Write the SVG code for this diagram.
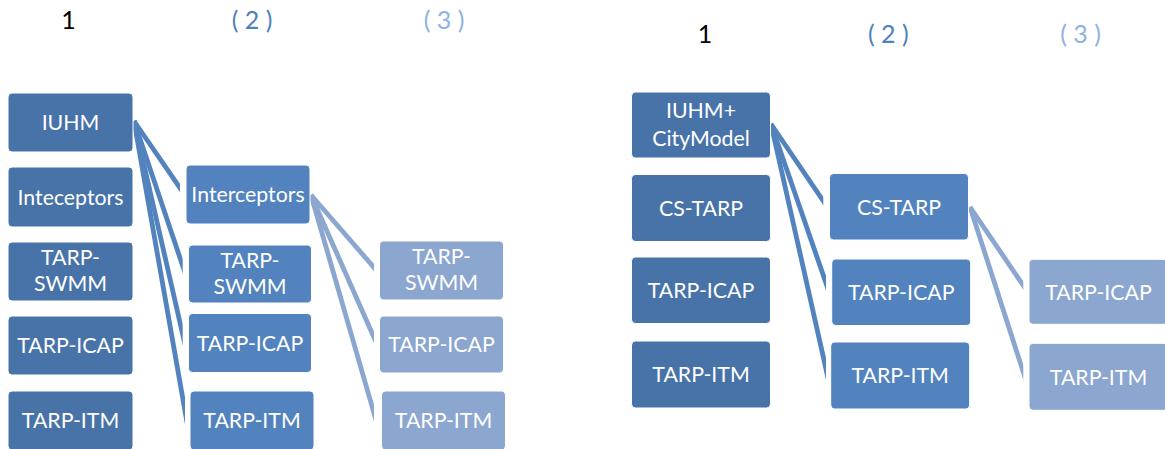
<svg xmlns="http://www.w3.org/2000/svg" width="1165" height="449" viewBox="0 0 1165 449">
<style>
.box rect{stroke:#ffffff;stroke-width:1}
.c1 rect{fill:#4873a9}
.c2 rect{fill:#5283bf}
.c3 rect{fill:#8ba6cf}
.box text{font-family:Lato,"Liberation Sans",sans-serif;font-size:21.3px;fill:#ffffff;text-anchor:middle}
.hd{font-family:Lato,"Liberation Sans",sans-serif;font-size:25px;text-anchor:middle}
.k1{stroke:#5283bf;stroke-width:4.8;fill:none}
.k2{stroke:#8ba6cf;stroke-width:4.8;fill:none}
</style>
<defs>
<clipPath id="cA" clipPathUnits="userSpaceOnUse"><rect x="0" y="0" width="180" height="449"/></clipPath>
<clipPath id="cB" clipPathUnits="userSpaceOnUse"><rect x="0" y="0" width="182.7" height="449"/></clipPath>
<clipPath id="cC" clipPathUnits="userSpaceOnUse"><rect x="0" y="0" width="185" height="449"/></clipPath>
<clipPath id="cD" clipPathUnits="userSpaceOnUse"><rect x="0" y="0" width="374" height="449"/></clipPath>
<clipPath id="cE" clipPathUnits="userSpaceOnUse"><rect x="0" y="0" width="823.3" height="449"/></clipPath>
<clipPath id="cF" clipPathUnits="userSpaceOnUse"><rect x="0" y="0" width="826" height="449"/></clipPath>
<clipPath id="cG" clipPathUnits="userSpaceOnUse"><rect x="0" y="0" width="1023.3" height="449"/></clipPath>
</defs>

<g id="headers">
<text class="hd" x="68.5" y="29.3" fill="#000000">1</text>
<text class="hd" x="252" y="29.3" fill="#4f81bd">( 2 )</text>
<text class="hd" x="444" y="29.3" fill="#8db3e2">( 3 )</text>
<text class="hd" x="705" y="43.3" fill="#000000">1</text>
<text class="hd" x="888.3" y="43.3" fill="#4f81bd">( 2 )</text>
<text class="hd" x="1080.5" y="43.3" fill="#8db3e2">( 3 )</text>
</g>

<g id="connectors">
<line class="k1" x1="134" y1="121" x2="186" y2="196.7" clip-path="url(#cA)"/>
<line class="k1" x1="134" y1="121" x2="187.6" y2="280.5" clip-path="url(#cB)"/>
<line class="k1" x1="134" y1="121" x2="187.6" y2="355.9" clip-path="url(#cB)"/>
<line class="k1" x1="134" y1="121" x2="189.1" y2="434.2" clip-path="url(#cC)"/>
<line class="k2" x1="311" y1="195" x2="383.5" y2="278.4" clip-path="url(#cD)"/>
<line class="k2" x1="311" y1="195" x2="380.3" y2="351.8" clip-path="url(#cD)"/>
<line class="k2" x1="311" y1="195" x2="379" y2="430.4" clip-path="url(#cD)"/>
<line class="k1" x1="771" y1="124" x2="829.6" y2="210.2" clip-path="url(#cE)"/>
<line class="k1" x1="771" y1="124" x2="831.5" y2="299" clip-path="url(#cF)"/>
<line class="k1" x1="771" y1="124" x2="830.4" y2="388.6" clip-path="url(#cF)"/>
<line class="k2" x1="970" y1="207" x2="1029.7" y2="294.9" clip-path="url(#cG)"/>
<line class="k2" x1="970" y1="207" x2="1028.6" y2="388.5" clip-path="url(#cG)"/>
</g>

<!-- left panel column 1 -->
<g id="L1_IUHM" class="box c1"><rect x="8" y="93" width="125" height="59" rx="4"/><text x="70.5" y="130">IUHM</text></g>
<g id="L1_Inteceptors" class="box c1"><rect x="8" y="167" width="125" height="60" rx="4"/><text x="70.5" y="204.5">Inteceptors</text></g>
<g id="L1_SWMM" class="box c1"><rect x="8" y="242" width="125" height="59" rx="4"/><text x="70.5" y="265">TARP-</text><text x="70.5" y="291">SWMM</text></g>
<g id="L1_ICAP" class="box c1"><rect x="8" y="316" width="125" height="59" rx="4"/><text x="70.5" y="353">TARP-ICAP</text></g>
<g id="L1_ITM" class="box c1"><rect x="8" y="391" width="125" height="59" rx="4"/><text x="70.5" y="427.5">TARP-ITM</text></g>

<!-- left panel column 2 -->
<g id="L2_Interceptors" class="box c2"><rect x="186" y="165" width="124" height="59" rx="4"/><text x="248" y="202">Interceptors</text></g>
<g id="L2_SWMM" class="box c2"><rect x="188.5" y="245" width="123" height="58" rx="4"/><text x="250" y="268">TARP-</text><text x="250" y="294">SWMM</text></g>
<g id="L2_ICAP" class="box c2"><rect x="188.5" y="313.5" width="123" height="59" rx="4"/><text x="250" y="350.5">TARP-ICAP</text></g>
<g id="L2_ITM" class="box c2"><rect x="190" y="391" width="124" height="59" rx="4"/><text x="252" y="427.5">TARP-ITM</text></g>

<!-- left panel column 3 -->
<g id="L3_SWMM" class="box c3"><rect x="379.5" y="241" width="124" height="59" rx="4"/><text x="441.5" y="264">TARP-</text><text x="441.5" y="290">SWMM</text></g>
<g id="L3_ICAP" class="box c3"><rect x="379.5" y="316" width="124" height="57" rx="4"/><text x="441.5" y="352">TARP-ICAP</text></g>
<g id="L3_ITM" class="box c3"><rect x="381.5" y="391" width="124" height="59" rx="4"/><text x="443.5" y="427.5">TARP-ITM</text></g>

<!-- right panel column 1 -->
<g id="R1_IUHM" class="box c1"><rect x="631.5" y="92" width="139" height="66" rx="4"/><text x="701" y="118.3">IUHM+</text><text x="701" y="145.7">CityModel</text></g>
<g id="R1_CSTARP" class="box c1"><rect x="631.5" y="174.5" width="139" height="67" rx="4"/><text x="701" y="215.5">CS-TARP</text></g>
<g id="R1_ICAP" class="box c1"><rect x="631.5" y="257" width="139" height="66.5" rx="4"/><text x="701" y="298">TARP-ICAP</text></g>
<g id="R1_ITM" class="box c1"><rect x="631.5" y="341" width="139" height="67" rx="4"/><text x="701" y="382">TARP-ITM</text></g>

<!-- right panel column 2 -->
<g id="R2_CSTARP" class="box c2"><rect x="829.5" y="173.5" width="139" height="66.5" rx="4"/><text x="899" y="214.5">CS-TARP</text></g>
<g id="R2_ICAP" class="box c2"><rect x="831.7" y="259" width="139" height="66.5" rx="4"/><text x="901.2" y="300">TARP-ICAP</text></g>
<g id="R2_ITM" class="box c2"><rect x="830.7" y="342" width="139" height="67" rx="4"/><text x="900.2" y="383">TARP-ITM</text></g>

<!-- right panel column 3 -->
<g id="R3_ICAP" class="box c3"><rect x="1029" y="259.3" width="139" height="65" rx="4"/><text x="1098.5" y="299.5">TARP-ICAP</text></g>
<g id="R3_ITM" class="box c3"><rect x="1029" y="343.3" width="139" height="67" rx="4"/><text x="1098.5" y="384.5">TARP-ITM</text></g>
</svg>
